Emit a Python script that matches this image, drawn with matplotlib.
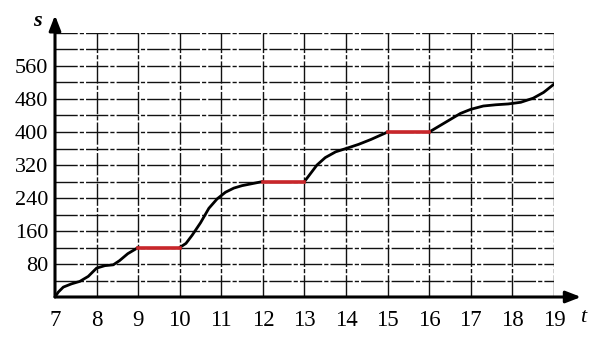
import matplotlib
matplotlib.use("Agg")
import matplotlib.pyplot as plt

# ---- data ----
x_ticks = [7, 8, 9, 10, 11, 12, 13, 14, 15, 16, 17, 18, 19]
y_ticks = [80, 160, 240, 320, 400, 480, 560]

seg1_t = [7, 7.08, 7.2, 7.4, 7.6, 7.8, 8.0, 8.2, 8.4, 8.55, 8.75, 9]
seg1_s = [0, 12, 24, 32, 38, 50, 70, 76, 78, 88, 105, 120]
seg2_t = [10, 10.15, 10.3, 10.5, 10.7, 10.9, 11.1, 11.3, 11.5, 11.75, 12]
seg2_s = [120, 130, 150, 180, 215, 238, 254, 264, 270, 275, 280]
seg3_t = [13, 13.15, 13.3, 13.5, 13.75, 14, 14.3, 14.6, 15]
seg3_s = [280, 300, 320, 338, 352, 360, 370, 382, 400]
seg4_t = [16, 16.25, 16.5, 16.75, 17, 17.3, 17.6, 17.9, 18.2, 18.5, 18.75, 19]
seg4_s = [400, 415, 430, 445, 455, 463, 466, 468, 472, 482, 496, 516]

rest_start = [9, 12, 15]
rest_end = [10, 13, 16]
rest_s = [120, 280, 400]

grid_h = list(range(40, 641, 40))
grid_v = list(range(8, 20))

# ---- figure ----
fig = plt.figure(figsize=(6, 3.4), dpi=100)
ax = fig.add_axes([55/600, 43/340, 499/600, 264/340])
ax.set_xlim(7, 19)
ax.set_ylim(0, 640)
for sp in ax.spines.values():
    sp.set_visible(False)

gl = dict(color="#111111", lw=1.0, ls=(0, (16, 1.5, 3, 1.5)), zorder=1)
for y in grid_h:
    ax.plot([7, 19], [y, y], **gl)
for x in grid_v:
    ax.plot([x, x], [0, 640], **gl)

for t, s in [(seg1_t, seg1_s), (seg2_t, seg2_s), (seg3_t, seg3_s), (seg4_t, seg4_s)]:
    ax.plot(t, s, color="black", lw=2, solid_capstyle="round", zorder=3)
for a, b, s in zip(rest_start, rest_end, rest_s):
    ax.plot([a, b], [s, s], color="#c8262a", lw=2.6, zorder=4)

# axes with arrows
ax.annotate("", xy=(19.65, 0), xytext=(7, 0), annotation_clip=False,
            arrowprops=dict(arrowstyle="-|>,head_length=0.9,head_width=0.35",
                            color="black", lw=2.2, shrinkA=0, shrinkB=0))
ax.annotate("", xy=(7, 683), xytext=(7, 0), annotation_clip=False,
            arrowprops=dict(arrowstyle="-|>,head_length=0.9,head_width=0.35",
                            color="black", lw=2.2, shrinkA=0, shrinkB=0))

ax.set_xticks(x_ticks)
ax.set_xticklabels([str(v) for v in x_ticks], family="Liberation Serif", size=16.5)
ax.set_yticks(y_ticks)
ax.set_yticklabels([str(v) for v in y_ticks], family="Liberation Serif", size=16)
ax.tick_params(axis="x", length=0, pad=9)
ax.tick_params(axis="y", length=0, pad=5)

ax.text(19.7, -50, "t", fontstyle="italic", ha="center", va="center",
        family="Liberation Serif", size=16)
ax.text(6.57, 668, "s", fontstyle="italic", fontweight="bold", ha="center",
        va="center", family="Liberation Serif", size=16)

fig.savefig("out.png", dpi=100)
